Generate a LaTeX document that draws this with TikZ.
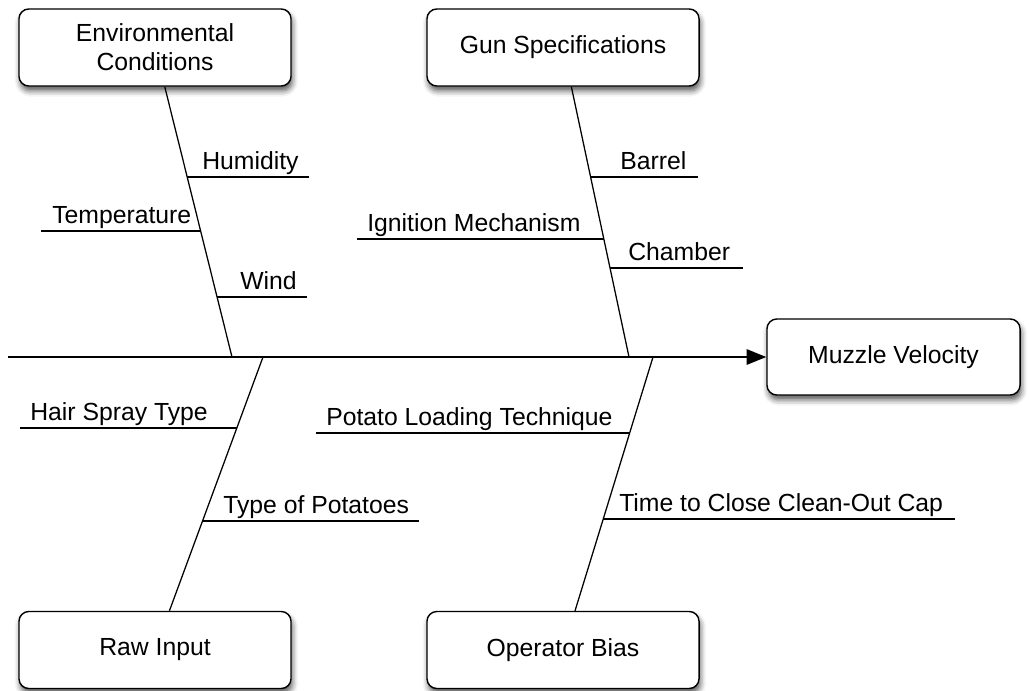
\documentclass[tikz,border=0pt]{standalone}
\usepackage{fontspec}
\setmainfont{Liberation Sans}
\usetikzlibrary{arrows.meta,shadows.blur}

\begin{document}
\begin{tikzpicture}[x=0.025cm,y=-0.025cm]
    \tikzset{
        cause/.style = {rectangle, draw=black, fill=white, line width=1pt, rounded corners=7pt,
            minimum width=6.8cm, minimum height=1.925cm, inner sep=0pt, align=center,
            font=\fontsize{17.6}{20.5}\selectfont,
            blur shadow={shadow xshift=1pt, shadow yshift=-3.5pt, shadow blur radius=4pt, shadow opacity=65}},
        effect/.style = {cause, minimum width=6.325cm, minimum height=1.9cm},
        bone/.style = {draw=black, line width=0.9pt},
        spine/.style = {draw=black, line width=1.2pt, -{Triangle[length=14pt,width=11pt]}},
        sub/.style = {anchor=base west, inner sep=0pt, font=\fontsize{17.6}{20.5}\selectfont},
    }
    \useasboundingbox (0,0) rectangle (1029,690);

    % heads of the bones
    \node[cause](envbox) at (155,47.5) {Environmental\\Conditions};
    \node[cause](gunbox) at (563,47.5) {Gun Specifications};
    \node[cause](rawbox) at (155,650) {Raw Input};
    \node[cause](opbox) at (563,650) {Operator Bias};
    \node[effect](muzzle) at (893.5,357) {Muzzle Velocity};

    % spine
    \coordinate (tail) at (8,357);
    \coordinate (envjoin) at (232,357);
    \coordinate (gunjoin) at (629,357);
    \coordinate (rawjoin) at (263,357);
    \coordinate (opjoin) at (653,357);

    \path [spine] (tail) -- (muzzle);
    \path [bone] (envbox) -- (envjoin);
    \path [bone] (gunbox) -- (gunjoin);
    \path [bone] (rawbox) -- (rawjoin);
    \path [bone] (opbox) -- (opjoin);

    % environmental conditions
    \coordinate (hum-a) at (187,177);  \coordinate (hum-b) at (309,177);
    \coordinate (temp-a) at (201,231); \coordinate (temp-b) at (41,231);
    \coordinate (wind-a) at (217,297); \coordinate (wind-b) at (307,297);
    \node[sub](hum) at (202,169) {Humidity};
    \node[sub](temp) at (52,223) {Temperature};
    \node[sub](wind) at (240,289) {Wind};
    \path [bone] (hum-a) -- (hum-b);
    \path [bone] (temp-a) -- (temp-b);
    \path [bone] (wind-a) -- (wind-b);

    % gun specifications
    \coordinate (barrel-a) at (591,177); \coordinate (barrel-b) at (698,177);
    \coordinate (ign-a) at (604,239);    \coordinate (ign-b) at (357,239);
    \coordinate (chamber-a) at (610,268); \coordinate (chamber-b) at (743,268);
    \node[sub](barrel) at (620,169) {Barrel};
    \node[sub](ign) at (367,231) {Ignition Mechanism};
    \node[sub](chamber) at (628,260) {Chamber};
    \path [bone] (barrel-a) -- (barrel-b);
    \path [bone] (ign-a) -- (ign-b);
    \path [bone] (chamber-a) -- (chamber-b);

    % raw input
    \coordinate (spray-a) at (237,428); \coordinate (spray-b) at (20,428);
    \coordinate (potato-a) at (203,521); \coordinate (potato-b) at (419,521);
    \node[sub](spray) at (30,420) {Hair Spray Type};
    \node[sub](potato) at (223,513) {Type of Potatoes};
    \path [bone] (spray-a) -- (spray-b);
    \path [bone] (potato-a) -- (potato-b);

    % operator bias
    \coordinate (load-a) at (630,433); \coordinate (load-b) at (316,433);
    \coordinate (cap-a) at (603,519);  \coordinate (cap-b) at (955,519);
    \node[sub](load) at (326,425) {Potato Loading Technique};
    \node[sub](cap) at (619,511) {Time to Close Clean-Out Cap};
    \path [bone] (load-a) -- (load-b);
    \path [bone] (cap-a) -- (cap-b);

\end{tikzpicture}
\end{document}
